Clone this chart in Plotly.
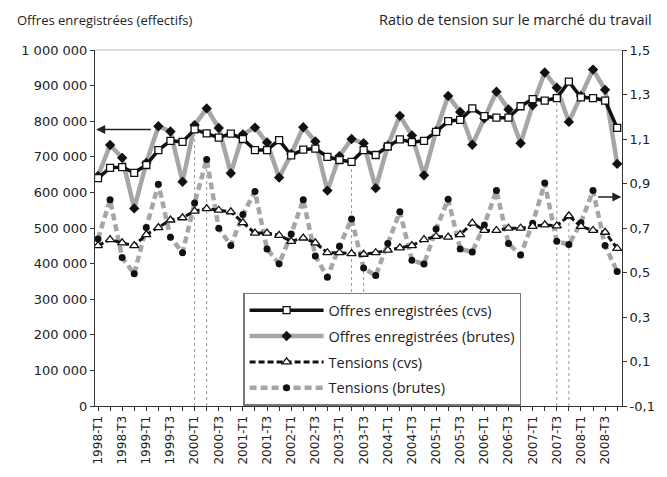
import plotly.graph_objects as go

# ---------------- data ----------------
quarters = [f"{y}-T{q}" for y in range(1998, 2009) for q in (1, 2, 3, 4)]

offres_cvs = [640000, 669000, 671000, 655000, 677000, 719000, 745000, 742000,
              777000, 766000, 754000, 765000, 750000, 719000, 719000, 747000,
              704000, 720000, 723000, 700000, 691000, 686000, 719000, 705000,
              729000, 749000, 741000, 745000, 770000, 800000, 804000, 836000,
              814000, 810000, 810000, 842000, 862000, 858000, 865000, 911000,
              867000, 865000, 858000, 781000]

offres_brutes = [646000, 733000, 697000, 555000, 683000, 786000, 771000, 630000,
                 789000, 836000, 781000, 654000, 763000, 782000, 740000, 642000,
                 708000, 783000, 743000, 605000, 702000, 750000, 738000, 612000,
                 731000, 815000, 760000, 648000, 772000, 871000, 826000, 734000,
                 808000, 883000, 833000, 738000, 845000, 937000, 894000, 798000,
                 871000, 945000, 888000, 680000]

tensions_cvs = [0.621, 0.648, 0.633, 0.621, 0.670, 0.702, 0.736, 0.746,
                0.776, 0.787, 0.780, 0.773, 0.724, 0.677, 0.677, 0.667,
                0.640, 0.655, 0.633, 0.589, 0.589, 0.585, 0.582, 0.589,
                0.601, 0.611, 0.621, 0.648, 0.662, 0.659, 0.670, 0.722,
                0.689, 0.689, 0.699, 0.699, 0.707, 0.714, 0.710, 0.755,
                0.707, 0.689, 0.681, 0.608]

tensions_brutes = [0.651, 0.827, 0.567, 0.494, 0.702, 0.897, 0.658, 0.589,
                   0.812, 1.008, 0.699, 0.621, 0.761, 0.864, 0.606, 0.539,
                   0.673, 0.827, 0.574, 0.479, 0.618, 0.740, 0.520, 0.486,
                   0.630, 0.773, 0.555, 0.538, 0.695, 0.829, 0.606, 0.592,
                   0.714, 0.868, 0.630, 0.579, 0.721, 0.902, 0.640, 0.626,
                   0.724, 0.868, 0.621, 0.504]

left_ticks = [0, 100000, 200000, 300000, 400000, 500000, 600000, 700000, 800000, 900000, 1000000]
left_labels = ["0", "100 000", "200 000", "300 000", "400 000", "500 000", "600 000",
               "700 000", "800 000", "900 000", "1 000 000"]
right_ticks = [-0.1, 0.1, 0.3, 0.5, 0.7, 0.9, 1.1, 1.3, 1.5]
right_labels = ["-0,1", "0,1", "0,3", "0,5", "0,7", "0,9", "1,1", "1,3", "1,5"]

names = ["Offres enregistrées (cvs)", "Offres enregistrées (brutes)",
         "Tensions (cvs)", "Tensions (brutes)"]

# ---------------- figure ----------------
idx = list(range(len(quarters)))
xlabels = [q if i % 2 == 0 else "" for i, q in enumerate(quarters)]
FONT = "Open Sans"
NUMFONT = "DejaVu Sans"
GRAY = "#a6a6a6"
INK = "#111111"
TXT = "#222222"

fig = go.Figure()
fig.add_trace(go.Scatter(x=idx, y=offres_brutes, name=names[1], yaxis="y", legendrank=2,
                         legendgroup="g2",
                         mode="lines+markers", line=dict(color=GRAY, width=4.5),
                         marker=dict(symbol="diamond", size=8, color=INK)))
fig.add_trace(go.Scatter(x=idx, y=tensions_brutes, name=names[3], yaxis="y2", legendrank=4,
                         legendgroup="g4",
                         mode="lines+markers", line=dict(color=GRAY, width=4.5, dash="7px,4px"),
                         marker=dict(symbol="circle", size=7, color=INK)))
fig.add_trace(go.Scatter(x=idx, y=tensions_cvs, name=names[2], yaxis="y2", legendrank=3,
                         legendgroup="g3",
                         mode="lines+markers", line=dict(color=INK, width=3, dash="6px,3px"),
                         marker=dict(symbol="triangle-up", size=8, color="white",
                                     line=dict(color=INK, width=1.3))))
fig.add_trace(go.Scatter(x=idx, y=offres_cvs, name=names[0], yaxis="y", legendrank=1,
                         legendgroup="g1",
                         mode="lines+markers", line=dict(color=INK, width=3.5),
                         marker=dict(symbol="square", size=7, color="white",
                                     line=dict(color=INK, width=1.3))))

xr = [-0.25, 43.4]
axis_common = dict(showgrid=False, zeroline=False, linecolor="#333333", linewidth=1,
                   tickcolor="#333333", ticklen=4, tickwidth=1)
tickfont = dict(family=NUMFONT, size=13, color=TXT)

# the page body has an 8px default margin; the figure is sized to fit inside it
fig.update_layout(
    width=659, height=469,
    margin=dict(l=87, r=35, t=42, b=64),
    paper_bgcolor="white", plot_bgcolor="white",
    font=dict(family=FONT, size=13, color=TXT),
    xaxis=dict(range=xr, tickmode="array", tickvals=idx, ticktext=xlabels, tickangle=-90,
               ticks="outside", showline=True, tickfont=dict(family=NUMFONT, size=12, color=TXT),
               **axis_common),
    xaxis3=dict(range=xr, overlaying="x", anchor="y", tickmode="array", tickvals=idx,
                showticklabels=False, ticks="inside", showline=False, **axis_common),
    yaxis=dict(range=[0, 1000000], tickmode="array", tickvals=left_ticks, ticktext=left_labels,
               ticks="outside", showline=True, tickfont=tickfont, **axis_common),
    yaxis3=dict(range=[0, 1000000], overlaying="y", anchor="x", side="left", tickmode="array",
                tickvals=left_ticks, showticklabels=False, ticks="inside", showline=False,
                **axis_common),
    yaxis2=dict(range=[-0.1, 1.5], overlaying="y", side="right", anchor="x", tickmode="array",
                tickvals=right_ticks, ticktext=right_labels, ticks="outside", showline=True,
                tickfont=tickfont, **axis_common),
    yaxis4=dict(range=[-0.1, 1.5], overlaying="y", side="right", anchor="x", tickmode="array",
                tickvals=right_ticks, showticklabels=False, ticks="inside", showline=False,
                **axis_common),
    legend=dict(x=0.281, y=0.318, xanchor="left", yanchor="top", bgcolor="white",
                bordercolor="#777777", borderwidth=1.5, font=dict(size=14.5, family=FONT),
                itemwidth=74, tracegroupgap=4),
    showlegend=True,
)

# top border of plot area
fig.add_shape(type="line", xref="paper", yref="paper", x0=0, x1=1, y0=1, y1=1,
              line=dict(color="#bbbbbb", width=1))

# vertical dotted reference lines
vlines = [(8, "y", 0, offres_cvs[8]), (9, "y2", -0.1, tensions_brutes[9]),
          (21, "y", 0, offres_cvs[21]), (22, "y2", -0.1, tensions_brutes[22]),
          (38, "y", 0, offres_cvs[38]), (39, "y2", -0.1, tensions_cvs[39])]
for xi, yr, y0, y1 in vlines:
    fig.add_shape(type="line", xref="x", yref=yr, x0=xi, x1=xi, y0=y0, y1=y1,
                  line=dict(color="#999999", width=1, dash="dot"), layer="below")

# arrows pointing to axes
fig.add_annotation(x=-0.15, y=777000, xref="x", yref="y", ax=4.5, ay=777000, axref="x", ayref="y",
                   showarrow=True, arrowhead=2, arrowsize=1.2, arrowwidth=1.5, arrowcolor="#222222",
                   text="")
fig.add_annotation(x=43.35, y=0.839, xref="x", yref="y2", ax=41.3, ay=0.839, axref="x", ayref="y2",
                   showarrow=True, arrowhead=2, arrowsize=1.2, arrowwidth=1.5, arrowcolor="#222222",
                   text="")

# axis titles
fig.add_annotation(text="Offres enregistrées (effectifs)", xref="paper", yref="paper",
                   x=-0.151, y=1.085, xanchor="left", yanchor="middle", showarrow=False,
                   font=dict(size=13, family=FONT))
fig.add_annotation(text="Ratio de tension sur le marché du travail", xref="paper", yref="paper",
                   x=1.0615, y=1.085, xanchor="right", yanchor="middle", showarrow=False,
                   font=dict(size=14.5, family=FONT))

fig.write_html("out.html")
